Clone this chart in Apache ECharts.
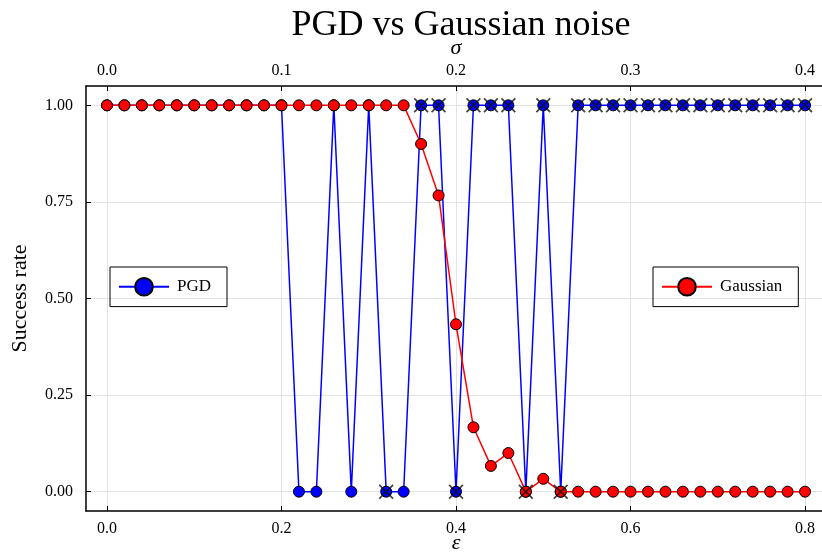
<!DOCTYPE html>
<html>
<head>
<meta charset="utf-8">
<script src="https://cdn.jsdelivr.net/npm/echarts@6/dist/echarts.min.js"></script>
<style>
  html, body { margin: 0; padding: 0; background: #fff; }
  #chart { width: 822px; height: 554px; }
</style>
</head>
<body>
<div id="chart"></div>
<script>
// perturbation size epsilon (bottom axis)
const eps = [
  0.00, 0.02, 0.04, 0.06, 0.08, 0.10, 0.12, 0.14, 0.16, 0.18,
  0.20, 0.22, 0.24, 0.26, 0.28, 0.30, 0.32, 0.34, 0.36, 0.38,
  0.40, 0.42, 0.44, 0.46, 0.48, 0.50, 0.52, 0.54, 0.56, 0.58,
  0.60, 0.62, 0.64, 0.66, 0.68, 0.70, 0.72, 0.74, 0.76, 0.78, 0.80,
];
const pgd = [
  1, 1, 1, 1, 1, 1, 1, 1, 1, 1,
  1, 0, 0, 1, 0, 1, 0, 0, 1, 1,
  0, 1, 1, 1, 0, 1, 0, 1, 1, 1,
  1, 1, 1, 1, 1, 1, 1, 1, 1, 1, 1,
];
const gaussian = [
  1, 1, 1, 1, 1, 1, 1, 1, 1, 1,
  1, 1, 1, 1, 1, 1, 1, 1, 0.9, 0.7667,
  0.4333, 0.1667, 0.0667, 0.1, 0, 0.0333, 0, 0, 0, 0,
  0, 0, 0, 0, 0, 0, 0, 0, 0, 0, 0,
];
// points of the PGD run marked with a cross
const crossEps = [
  0.32, 0.36, 0.38, 0.40, 0.42, 0.44, 0.46, 0.48, 0.50, 0.52,
  0.54, 0.56, 0.58, 0.60, 0.62, 0.64, 0.66, 0.68, 0.70, 0.72,
  0.74, 0.76, 0.78, 0.80,
];
const epsTicks = [0, 0.2, 0.4, 0.6, 0.8];
const sigmaTicks = [0, 0.1, 0.2, 0.3, 0.4];
const rateTicks = [0, 0.25, 0.5, 0.75, 1];

const FONT = '"Liberation Serif", "DejaVu Serif", serif';
const gridLine = { show: true, lineStyle: { color: '#e3e3e3', width: 1 } };

const pgdData = eps.map((x, i) => [x, pgd[i]]);
const gaussData = eps.map((x, i) => [x, gaussian[i]]);
const crossData = crossEps.map((x) => [x, pgd[eps.findIndex((e) => Math.abs(e - x) < 1e-9)]]);

const chart = echarts.init(document.getElementById('chart'));

const legendBase = {
  orient: 'vertical',
  top: 267,
  borderColor: '#000',
  borderWidth: 1,
  borderRadius: 0,
  padding: [10, 16, 10, 8],
  itemWidth: 50,
  itemHeight: 22,
  textStyle: { fontFamily: FONT, fontSize: 17, color: '#000', padding: [0, 0, 0, 3] },
  selectedMode: false,
};

chart.setOption({
  animation: false,
  backgroundColor: '#fff',
  title: {
    text: 'PGD vs Gaussian noise',
    left: 456,
    textAlign: 'center',
    top: 3,
    textStyle: { fontFamily: FONT, fontSize: 36, fontWeight: 'normal', color: '#000' },
  },
  legend: [
    { ...legendBase, left: 110, data: ['PGD'] },
    { ...legendBase, left: 653, data: ['Gaussian'] },
  ],
  grid: { left: 86, top: 86, width: 740, bottom: 43, outerBoundsMode: 'none', containLabel: false },
  xAxis: [
    {
      type: 'value',
      position: 'bottom',
      min: -0.024,
      max: 0.824,
      name: 'ε',
      nameLocation: 'middle',
      nameGap: 21,
      nameMoveOverlap: false,
      nameTextStyle: { fontFamily: FONT, fontSize: 22, fontStyle: 'italic', color: '#000' },
      axisLine: { show: true, onZero: false, lineStyle: { color: '#000', width: 1.5 } },
      axisTick: { show: true, inside: true, length: 5, customValues: epsTicks, lineStyle: { color: '#000' } },
      axisLabel: {
        customValues: epsTicks,
        formatter: (v) => v.toFixed(1),
        margin: 10,
        fontFamily: FONT,
        fontSize: 16,
        color: '#000',
      },
      splitLine: gridLine,
    },
    {
      type: 'value',
      position: 'top',
      min: -0.012,
      max: 0.412,
      name: 'σ',
      nameLocation: 'middle',
      nameGap: 27,
      nameMoveOverlap: false,
      nameTextStyle: { fontFamily: FONT, fontSize: 22, fontStyle: 'italic', color: '#000' },
      axisLine: { show: true, onZero: false, lineStyle: { color: '#000', width: 1.5 } },
      axisTick: { show: true, inside: true, length: 5, customValues: sigmaTicks, lineStyle: { color: '#000' } },
      axisLabel: {
        customValues: sigmaTicks,
        formatter: (v) => v.toFixed(1),
        margin: 7,
        fontFamily: FONT,
        fontSize: 16,
        color: '#000',
      },
      splitLine: { show: false },
    },
  ],
  yAxis: {
    type: 'value',
    min: -0.05,
    max: 1.05,
    name: 'Success rate',
    nameLocation: 'middle',
    nameGap: 55,
    nameMoveOverlap: false,
    nameTextStyle: { fontFamily: FONT, fontSize: 22, color: '#000' },
    axisLine: { show: true, onZero: false, lineStyle: { color: '#000', width: 1.5 } },
    axisTick: { show: true, inside: true, length: 5, customValues: rateTicks, lineStyle: { color: '#000' } },
    axisLabel: {
      customValues: rateTicks,
      formatter: (v) => v.toFixed(2),
      margin: 13,
      fontFamily: FONT,
      fontSize: 16,
      color: '#000',
    },
    splitLine: gridLine,
  },
  series: [
    {
      name: 'PGD',
      type: 'line',
      data: pgdData,
      symbol: 'circle',
      symbolSize: 11,
      showAllSymbol: true,
      lineStyle: { color: '#0000ff', width: 1.5 },
      itemStyle: { color: '#0000ff', borderColor: '#000', borderWidth: 1 },
      z: 2,
    },
    {
      name: 'Gaussian',
      type: 'line',
      data: gaussData,
      symbol: 'circle',
      symbolSize: 11,
      showAllSymbol: true,
      lineStyle: { color: '#ff0000', width: 1.5 },
      itemStyle: { color: '#ff0000', borderColor: '#000', borderWidth: 1 },
      z: 3,
    },
    {
      name: 'marked',
      type: 'scatter',
      data: crossData,
      symbol: 'path://M0,0.8L0.8,0L10,9.2L9.2,10ZM9.2,0L10,0.8L0.8,10L0,9.2Z',
      symbolSize: 15,
      itemStyle: { color: '#111', borderWidth: 0 },
      z: 5,
      silent: true,
    },
  ],
});
</script>
</body>
</html>
